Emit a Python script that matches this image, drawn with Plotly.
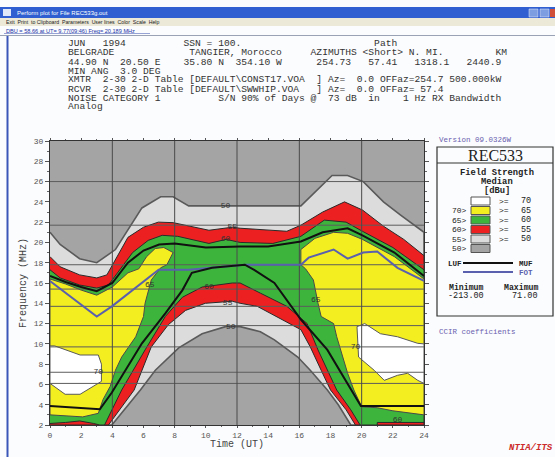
import plotly.graph_objects as go

# ---------------- field-strength contour boundaries (hour UT, MHz) ----------------
# >= 50 dBu
c50_top_h = [0, 0.65, 1.9, 3.0, 4.2, 5.9, 7.1, 7.9, 8.9, 12.0, 16.1, 18.1, 19.1, 20.1, 21.4, 22.5, 24]
c50_top_f = [21.0, 19.8, 18.4, 18.0, 19.3, 23.4, 24.5, 24.5, 23.6, 23.6, 23.6, 26.6, 26.6, 26.0, 24.0, 22.7, 21.0]
c50_bot_h = [0, 3.97, 5.8, 6.76, 8.26, 9.76, 11.26, 12.2, 13.5, 14.4, 15.9, 16.7, 17.8, 18.5, 19.3, 24]
c50_bot_f = [2, 2, 5.45, 7.4, 9.6, 11.0, 11.7, 11.7, 11.2, 10.4, 8.7, 7.4, 5.45, 4.0, 2, 2]
# >= 55 dBu
c55_top_h = [0, 0.65, 1.9, 3.0, 3.65, 4.2, 5.0, 6.0, 6.95, 7.9, 8.9, 10.2, 11.7, 12.2, 15.2, 16.1, 17.5, 18.9, 20.05, 21.4, 22.7, 24]
c55_top_f = [18.6, 17.6, 16.8, 16.5, 16.8, 18.3, 20.5, 21.5, 22.0, 21.95, 21.6, 21.2, 21.5, 21.4, 21.1, 21.7, 23.0, 24.0, 23.2, 21.6, 20.3, 18.7]
c55_bot_h = [0, 3.75, 5.4, 6.5, 7.6, 8.7, 9.97, 11.7, 12.2, 13.3, 14.8, 16.1, 16.7, 17.4, 18.0, 19.0, 19.6, 24]
c55_bot_f = [2, 2, 5.45, 9.7, 11.9, 13.3, 14.0, 14.2, 14.0, 13.7, 12.5, 11.4, 9.7, 7.4, 5.45, 3.5, 2, 2]
# >= 60 dBu
c60_top_h = [0, 0.65, 1.9, 3.0, 3.75, 4.5, 5.3, 6.3, 7.2, 8.2, 10.2, 11.3, 12.2, 14.3, 16.1, 17.6, 19.0, 20.05, 22.0, 24]
c60_top_f = [17.3, 16.5, 15.8, 15.5, 15.8, 17.3, 19.0, 20.2, 20.7, 20.6, 19.9, 20.3, 20.0, 19.9, 20.6, 22.2, 22.0, 21.1, 19.5, 17.3]
c60_bot_h = [0, 1.0, 1.9, 2.8, 3.2, 3.5, 4.6, 6.1, 7.4, 8.5, 9.76, 11.7, 12.2, 13.5, 15.2, 16.5, 17.2, 18.4, 19.3, 19.9, 21.0, 21.0, 24]
c60_bot_f = [2.15, 2.25, 2.4, 2.15, 2.0, 2.0, 5.45, 9.4, 12.7, 14.6, 15.6, 16.0, 16.0, 15.0, 13.7, 12.0, 9.4, 5.45, 3.5, 2.0, 2.0, 2.25, 2.25]
# >= 65 dBu (night/morning area, evening/night area)
c65a_h = [0, 1.0, 2.1, 3.1, 3.4, 3.86, 4.2, 4.6, 5.5, 6.0, 6.1, 6.5, 7.1, 7.5, 7.9, 7.3, 6.75, 6.2, 5.7, 5.0, 4.0, 3.0, 2.0, 1.0, 0]
c65a_f = [3.0, 2.9, 2.8, 3.15, 4.5, 5.8, 7.4, 8.7, 10.7, 12.7, 14.0, 16.3, 17.5, 17.8, 19.0, 19.5, 19.4, 18.6, 17.4, 17.0, 15.6, 14.8, 15.3, 15.9, 16.4]
c65b_h = [16.1, 17.0, 18.2, 19.1, 20.05, 22.1, 24, 24, 22, 21, 20.0, 19.8, 19.5, 19.1, 18.7, 18.4, 18.2, 17.4, 17.2, 16.9, 16.4, 16.1]
c65b_f = [19.3, 20.4, 21.0, 20.9, 20.3, 18.6, 16.4, 3.0, 3.4, 3.7, 3.8, 4.5, 5.45, 7.1, 9.1, 10.7, 12.0, 12.7, 14.0, 16.3, 17.4, 17.8]
# >= 70 dBu
c70a_h = [0, 0.3, 1.93, 3.1, 3.3, 3.3, 1.93, 0.97, 0]
c70a_f = [9.8, 9.8, 8.9, 8.9, 8.0, 6.3, 5.03, 5.03, 6.1]
c70b_h = [19.7, 20.2, 21.2, 22.3, 23.6, 24, 24, 23.6, 22.95, 22.3, 21.45, 20.8, 19.8, 19.7]
c70b_f = [11.7, 12.0, 11.0, 10.7, 10.05, 10.0, 6.1, 6.4, 7.1, 6.9, 6.4, 7.4, 8.7, 11.0]

# ---------------- MUF / FOT / LUF ----------------
muf_h = [0, 1, 2, 3, 4, 5, 6, 7, 8, 10, 12.2, 14, 16.1, 17.5, 19.1, 20.05, 22.1, 24]
muf_f = [16.7, 16.1, 15.6, 15.2, 16.0, 18.0, 19.2, 19.8, 19.9, 19.5, 19.6, 19.6, 20.1, 21.0, 21.4, 20.7, 19.0, 16.7]
fot_h = [0, 3.0, 3.97, 6.97, 8.9, 12.5, 16.1, 16.6, 18.2, 19.1, 20.1, 21.0, 22.3, 24]
fot_f = [16.2, 12.7, 13.7, 17.3, 17.3, 17.8, 17.8, 18.5, 19.3, 18.4, 19.0, 19.1, 17.5, 16.2]
luf_h = [0, 3.2, 3.97, 5.9, 7.4, 8.5, 9.1, 10.4, 12.5, 13.1, 14.4, 16.1, 17.8, 19.3, 19.95, 24]
luf_f = [3.87, 3.55, 5.2, 10.05, 13.0, 15.3, 17.0, 17.5, 17.8, 17.3, 16.0, 12.4, 9.4, 5.45, 3.87, 3.87]

# contour value labels: (hour, MHz, text)
lbl_h = [11.26, 11.7, 11.26, 10.2, 11.4, 11.6, 6.4, 17.05, 3.1, 19.6, 22.3]
lbl_f = [23.6, 21.5, 20.3, 15.6, 14.0, 11.7, 15.8, 14.3, 7.2, 9.7, 2.5]
lbl_t = ["50", "55", "60", "60", "55", "50", "65", "65", "70", "70", "60"]

# user frequency lines (broadcast bands) and time grid
band_mhz = [6.1, 7.2, 9.7, 11.8, 13.7, 15.4, 17.8, 21.7, 26.0]
hour_grid = [4, 8, 12, 16, 20]

# legend rows
leg_colors = ["#ffffff", "#f3ee1f", "#3db53d", "#ec2020", "#dcdcdc", "#a4a4a4"]
leg_left = ["", "70>", "65>", "60>", "55>", "50>"]
leg_ge = [">=", ">=", ">=", ">=", ">=", ""]
leg_val = ["70", "65", "60", "55", "50", ""]

GRAY, LGRAY, RED, GREEN, YELLOW, WHITE = "#a4a4a4", "#dcdcdc", "#ec2020", "#3db53d", "#f3ee1f", "#ffffff"
MONO = "Liberation Mono, Courier New, monospace"

W, H = 555, 457
PL, PR, PT, PB = 50, 424, 141, 425


def px(x):
    return (x - PL) / (PR - PL)


def py(y):
    return (PB - y) / (PB - PT)


fig = go.Figure()


def band(top_h, top_f, bot_h, bot_f, color, lc="#2a2a2a", lw=1):
    fig.add_trace(go.Scatter(x=top_h + bot_h[::-1], y=top_f + bot_f[::-1], fill="toself",
                             fillcolor=color, mode="lines", line=dict(color=lc, width=lw),
                             hoverinfo="skip", showlegend=False))


def poly(h, f, color, lc="#2a2a2a", lw=1):
    fig.add_trace(go.Scatter(x=h + h[:1], y=f + f[:1], fill="toself", fillcolor=color,
                             mode="lines", line=dict(color=lc, width=lw),
                             hoverinfo="skip", showlegend=False))


band(c50_top_h, c50_top_f, c50_bot_h, c50_bot_f, LGRAY, "#5a5a5a", 1.6)
band(c55_top_h, c55_top_f, c55_bot_h, c55_bot_f, RED)
band(c60_top_h, c60_top_f, c60_bot_h, c60_bot_f, GREEN)
poly(c65a_h, c65a_f, YELLOW, "#4a4a4a")
poly(c65b_h, c65b_f, YELLOW, "#4a4a4a")
poly(c70a_h, c70a_f, WHITE, "#5a5a5a")
poly(c70b_h, c70b_f, WHITE, "#5a5a5a")

# grid lines drawn over the colour fills
for f in band_mhz:
    fig.add_trace(go.Scatter(x=[0, 24], y=[f, f], mode="lines", line=dict(color="#5c5c5c", width=1),
                             hoverinfo="skip", showlegend=False))
for hh in hour_grid:
    fig.add_trace(go.Scatter(x=[hh, hh], y=[2, 30], mode="lines", line=dict(color="#4a4a4a", width=1),
                             hoverinfo="skip", showlegend=False))

fig.add_trace(go.Scatter(x=fot_h, y=fot_f, mode="lines", line=dict(color="#5a5fae", width=2),
                         hoverinfo="skip", showlegend=False))
fig.add_trace(go.Scatter(x=muf_h, y=muf_f, mode="lines", line=dict(color="#111111", width=2),
                         hoverinfo="skip", showlegend=False))
fig.add_trace(go.Scatter(x=luf_h, y=luf_f, mode="lines", line=dict(color="#111111", width=2),
                         hoverinfo="skip", showlegend=False))
fig.add_trace(go.Scatter(x=lbl_h, y=lbl_f, mode="text", text=lbl_t,
                         textfont=dict(family=MONO, size=8, color="#333333"),
                         hoverinfo="skip", showlegend=False))

shapes = []
ann = []


def rect(x0, y0, x1, y1, fill, line=None, lw=0):
    shapes.append(dict(type="rect", xref="paper", yref="paper", x0=px(x0), x1=px(x1),
                       y0=py(y1), y1=py(y0), fillcolor=fill, layer="above",
                       line=dict(color=line or fill, width=lw)))


def hline(x0, x1, y, color, lw=1):
    shapes.append(dict(type="line", xref="paper", yref="paper", x0=px(x0), x1=px(x1),
                       y0=py(y), y1=py(y), layer="above", line=dict(color=color, width=lw)))


def text(x, y, s, size=9.7, color="#333333", anchor="left", family=MONO, **kw):
    ann.append(dict(xref="paper", yref="paper", x=px(x), y=py(y), text=s.replace(" ", "\u00a0"),
                    showarrow=False, xanchor=anchor, yanchor="middle",
                    font=dict(family=family, size=size, color=color), **kw))


# window chrome
rect(0, 7, 555, 18, "#2f5fd0")
rect(3, 9, 11, 16, "#dfe8f8")
text(15, 12.5, "Perform plot for File REC533g.out", size=6, color="#ffffff", family="Arial")
rect(529, 9, 538, 17, "#7d9ee0", "#e8eefc", 0.5)
rect(540, 9, 549, 17, "#7d9ee0", "#e8eefc", 0.5)
rect(550, 9, 555, 17, "#d0503a")
rect(0, 18, 555, 26, "#ece9d8")
text(4, 22, "Exit  Print  to Clipboard  Parameters  User lines  Color  Scale  Help", size=5.2,
     color="#222222", family="Arial")
text(4, 30.5, "DBU = 58.66 at UT= 9.77(09:46) Freq= 20.189 MHz", size=5.6, color="#2233aa", family="Arial")
hline(4, 150, 33.5, "#5566bb", 0.6)
hline(0, 555, 35.5, "#9aa3b5", 1)
shapes.append(dict(type="line", xref="paper", yref="paper", x0=px(7.5), x1=px(7.5), y0=py(457),
                   y1=py(36), layer="above", line=dict(color="#3a56b8", width=2)))

# header block
hdr_x = 66
hdr = [
    (44, "JUN   1994          SSN = 100.                       Path"),
    (53, "BELGRADE             TANGIER, Morocco     AZIMUTHS <Short> N. MI.         KM"),
    (62, "44.90 N  20.50 E    35.80 N  354.10 W      254.73   57.41   1318.1   2440.9"),
    (71, "MIN ANG  3.0 DEG"),
    (80, "XMTR  2-30 2-D Table [DEFAULT\\CONST17.VOA  ] Az=  0.0 OFFaz=254.7 500.000kW"),
    (89, "RCVR  2-30 2-D Table [DEFAULT\\SWWHIP.VOA   ] Az=  0.0 OFFaz= 57.4"),
    (98, "NOISE CATEGORY 1          S/N 90% of Days @  73 dB  in    1 Hz RX Bandwidth"),
    (107, "Analog"),
]
for yy, s in hdr:
    text(hdr_x, yy, s, size=9.65)

# axis titles
text(23, 283, "Frequency (MHz)", size=10, color="#444444", anchor="center", textangle=-90)
text(237, 444, "Time (UT)", size=10, color="#444444", anchor="center")

# right-hand legend panel
text(437, 140, "Version 09.0326W", size=7.5, color="#6a5fb0")
rect(437, 147, 553, 316, "rgba(0,0,0,0)", "#333333", 1.2)
hline(437, 553, 163, "#333333", 1.2)
text(495, 155.5, "REC533", size=16, color="#222222", anchor="center",
     family="Liberation Serif, Times New Roman, serif")
for yy, s in [(173, "<b>Field Strength</b>"), (182, "<b>Median</b>"), (191, "<b>[dBu]</b>")]:
    text(497, yy, s, size=8.8, color="#222222", anchor="center")
row_y = [201, 210.5, 220, 229.5, 239, 248.5]
for yy, c, l, g, v in zip(row_y, leg_colors, leg_left, leg_ge, leg_val):
    rect(471, yy - 4, 490, yy + 4, c, "#555555", 1)
    if l:
        text(469, yy, l, size=8, color="#222222", anchor="right")
    if g:
        text(497, yy, g, size=8, color="#222222")
    if v:
        text(533, yy, v, size=8.5, color="#222222", anchor="right")
text(446, 264, "<b>LUF</b>", size=7.5, color="#222222")
hline(463, 513, 263, "#111111", 2)
hline(463, 513, 272, "#5a5fae", 2)
text(517, 264, "<b>MUF</b>", size=7.5, color="#222222")
text(517, 273, "<b>FOT</b>", size=7.5, color="#5a5fae")
text(466, 287, "<b>Minimum</b>", size=8.2, color="#222222", anchor="center")
text(521, 287, "<b>Maximum</b>", size=8.2, color="#222222", anchor="center")
text(466, 296, "-213.00", size=8.5, color="#222222", anchor="center")
text(540, 296, "71.00", size=8.5, color="#222222", anchor="right")
text(437, 332, "CCIR coefficients", size=7.5, color="#6a5fb0")
text(555, 448, "<b><i>NTIA/ITS</i></b>", size=9, color="#cc2a2a", anchor="right")

axis_font = dict(family=MONO, size=8, color="#555555")
fig.update_layout(
    width=W, height=H,
    margin=dict(l=PL, r=W - PR, t=PT, b=H - PB, pad=0),
    paper_bgcolor="#fbfcfd", plot_bgcolor=GRAY,
    showlegend=False, shapes=shapes, annotations=ann,
    xaxis=dict(range=[0, 24], tickvals=list(range(0, 25, 2)), ticks="outside", ticklen=2,
               tickcolor="#555555", showgrid=False, zeroline=False, showline=True,
               linecolor="#333333", linewidth=1, mirror="ticks", tickfont=axis_font,
               minor=dict(dtick=1, ticks="outside", ticklen=1, tickcolor="#666666")),
    yaxis=dict(range=[2, 30], tickvals=list(range(2, 31, 2)), ticks="outside", ticklen=4,
               tickcolor="#555555", showgrid=False, zeroline=False, showline=True,
               linecolor="#333333", linewidth=1, mirror="ticks", tickfont=axis_font,
               minor=dict(dtick=1, ticks="outside", ticklen=2, tickcolor="#666666")),
)

fig.write_html("out.html")
